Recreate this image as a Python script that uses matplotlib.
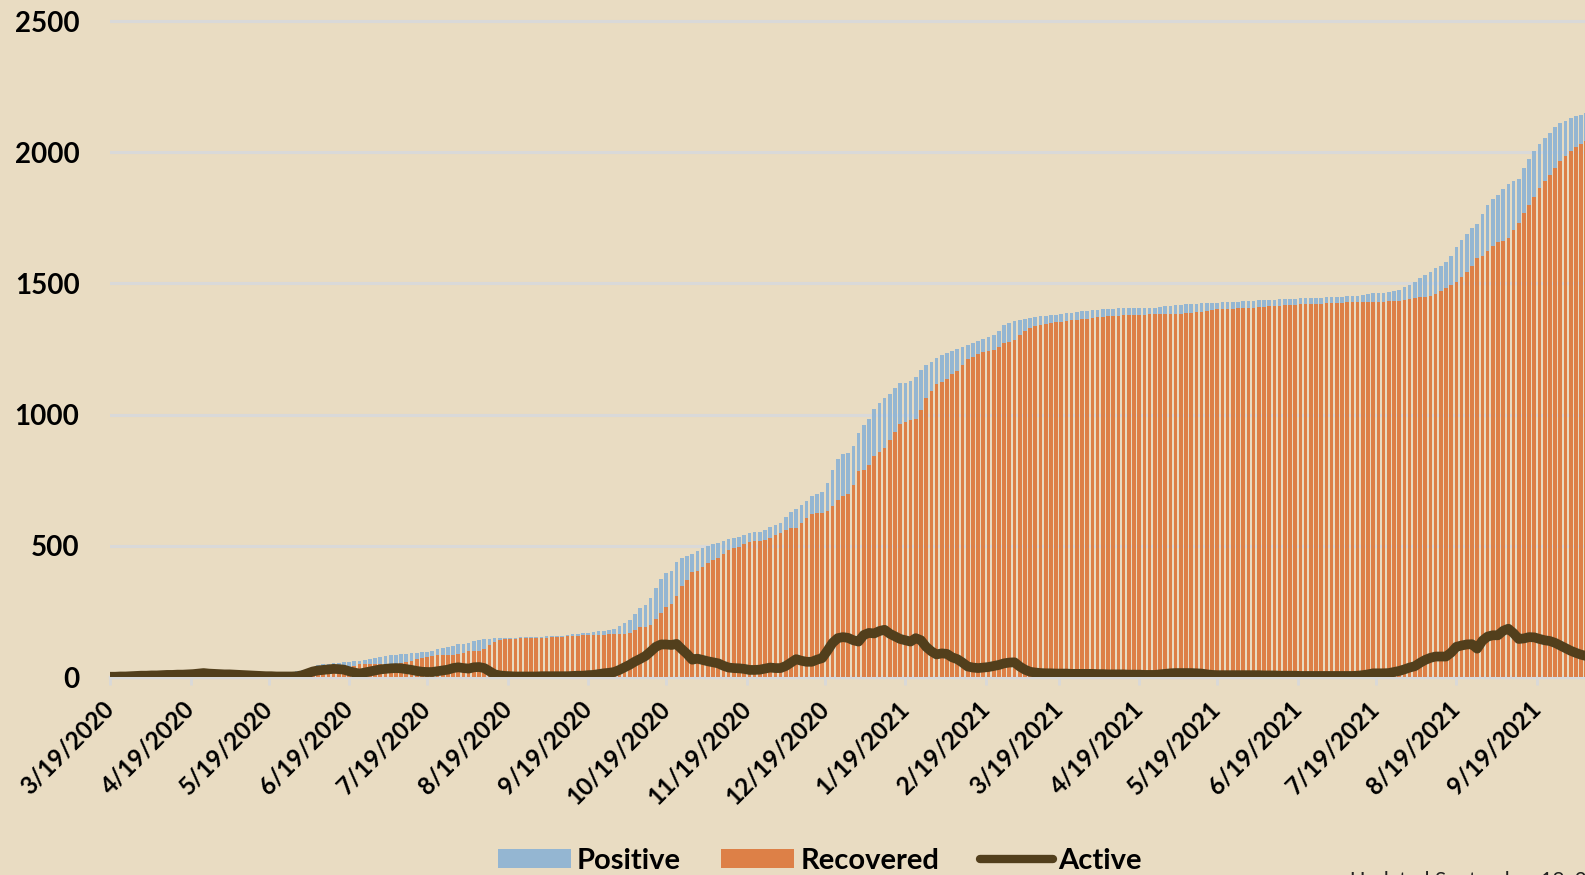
import matplotlib
matplotlib.use('Agg')
import matplotlib.pyplot as plt
import matplotlib.dates as mdates
import pandas as pd
from matplotlib.lines import Line2D
from matplotlib.patches import Patch

start_date = '2020-03-19'
step = '2D'

positive = [
    1, 1, 2, 2, 3, 4, 5, 5, 6, 7, 8, 9, 9, 10, 11, 12,
    13, 15, 17, 17, 17, 17, 17, 18, 18, 18, 18, 18, 18, 18, 18,
    18, 18, 19, 19, 20, 21, 25, 32, 40, 44, 48, 51, 53, 55, 56,
    58, 60, 62, 66, 70, 74, 78, 80, 82, 84, 86, 88, 90, 92, 94,
    96, 100, 105, 110, 114, 120, 124, 127, 131, 136, 140, 143, 145, 147, 148, 149,
    150, 150, 151, 151, 152, 153, 154, 155, 156, 157, 158, 160, 163, 165, 167,
    169, 170, 174, 177, 180, 184, 194, 205, 217, 240, 262, 275, 300, 338, 372,
    395, 405, 440, 455, 462, 470, 480, 490, 500, 506, 512, 518, 526, 530, 535, 542,
    549, 551, 554, 562, 572, 580, 588, 608, 628, 642, 655, 672, 688, 698, 705,
    740, 790, 830, 850, 855, 880, 930, 960, 985, 1020, 1045, 1065, 1080, 1100, 1120,
    1122, 1128, 1145, 1170, 1190, 1200, 1215, 1228, 1236, 1242, 1250, 1258, 1265, 1272, 1280, 1288,
    1295, 1305, 1320, 1340, 1348, 1355, 1360, 1365, 1368, 1372, 1375, 1377, 1379, 1381,
    1383, 1386, 1389, 1391, 1393, 1395, 1398, 1400, 1402, 1402, 1403, 1405, 1406, 1407, 1407,
    1407, 1407, 1408, 1408, 1410, 1412, 1414, 1416, 1418, 1420, 1422, 1423, 1424, 1425, 1426,
    1427, 1428, 1429, 1430, 1431, 1432, 1433, 1434, 1435, 1436, 1437, 1438, 1439, 1440, 1441, 1442,
    1443, 1444, 1444, 1445, 1446, 1447, 1448, 1449, 1450, 1451, 1452, 1453, 1455, 1458, 1462,
    1463, 1464, 1466, 1470, 1476, 1485, 1495, 1505, 1520, 1532, 1545, 1558, 1568, 1582, 1605,
    1640, 1665, 1690, 1712, 1726, 1763, 1800, 1823, 1838, 1858, 1878, 1891, 1898, 1940, 1975, 2004,
    2030, 2055, 2075, 2095, 2110, 2120, 2130, 2137, 2143, 2148,
]

recovered = [
    0, 0, 0, 0, 0, 0, 0, 0, 0, 1, 1, 1, 1, 1, 2, 2,
    2, 2, 2, 4, 5, 6, 7, 8, 9, 10, 11, 12, 13, 14, 15,
    15, 16, 17, 17, 18, 18, 18, 18, 19, 19, 21, 22, 22, 25, 28,
    35, 42, 48, 48, 48, 48, 48, 48, 48, 49, 52, 57, 62, 68, 73,
    76, 80, 82, 84, 85, 85, 86, 92, 98, 98, 100, 107, 121, 135, 140, 143,
    145, 146, 147, 147, 148, 149, 149, 150, 151, 152, 153, 155, 157, 158, 160,
    160, 160, 161, 161, 162, 163, 164, 165, 167, 178, 190, 192, 200, 220, 245,
    268, 280, 310, 345, 370, 400, 405, 420, 435, 445, 455, 470, 484, 490, 496, 505,
    516, 518, 520, 524, 530, 540, 547, 559, 566, 567, 586, 607, 623, 625, 626,
    632, 652, 674, 689, 697, 731, 785, 790, 807, 843, 859, 874, 904, 933, 963,
    970, 981, 984, 1017, 1062, 1089, 1115, 1124, 1134, 1153, 1168, 1189, 1210, 1221, 1231, 1237,
    1242, 1248, 1258, 1272, 1277, 1283, 1304, 1320, 1331, 1338, 1343, 1346, 1348, 1351,
    1353, 1356, 1360, 1362, 1364, 1365, 1368, 1371, 1373, 1374, 1375, 1377, 1378, 1380, 1380,
    1380, 1381, 1382, 1382, 1382, 1382, 1382, 1383, 1385, 1387, 1388, 1390, 1392, 1396, 1399,
    1401, 1402, 1403, 1404, 1405, 1406, 1407, 1408, 1409, 1411, 1412, 1413, 1415, 1416, 1417, 1418,
    1420, 1421, 1421, 1422, 1423, 1424, 1425, 1426, 1427, 1428, 1429, 1429, 1429, 1429, 1429,
    1430, 1431, 1432, 1432, 1434, 1437, 1440, 1445, 1447, 1448, 1452, 1460, 1470, 1484, 1492,
    1505, 1525, 1545, 1566, 1597, 1604, 1625, 1642, 1657, 1660, 1672, 1702, 1731, 1770, 1800, 1830,
    1862, 1891, 1914, 1941, 1966, 1985, 2005, 2020, 2033, 2043,
]

active = [
    1, 1, 2, 2, 3, 4, 5, 5, 6, 6, 7, 8, 8, 9, 9, 10,
    11, 13, 15, 13, 12, 11, 10, 10, 9, 8, 7, 6, 5, 4, 3,
    3, 2, 2, 2, 2, 3, 7, 14, 21, 25, 27, 29, 31, 30, 28,
    22, 17, 13, 17, 21, 25, 29, 31, 33, 34, 33, 30, 27, 23, 20,
    19, 19, 22, 25, 28, 34, 37, 34, 32, 37, 38, 34, 22, 10, 6, 4,
    3, 2, 2, 2, 2, 2, 3, 3, 3, 3, 3, 3, 4, 5, 5,
    7, 8, 11, 14, 16, 19, 27, 37, 47, 59, 69, 80, 97, 115, 124,
    124, 122, 126, 106, 88, 66, 70, 65, 60, 56, 52, 43, 36, 34, 33, 31,
    27, 27, 28, 32, 36, 34, 34, 42, 55, 68, 62, 58, 58, 66, 72,
    100, 130, 148, 152, 149, 140, 135, 160, 168, 166, 175, 180, 165, 155, 145,
    140, 135, 148, 140, 115, 98, 86, 90, 88, 75, 68, 55, 40, 36, 34, 36,
    38, 42, 46, 52, 55, 56, 40, 28, 20, 17, 15, 14, 14, 13,
    13, 13, 12, 12, 12, 12, 12, 11, 11, 10, 10, 10, 10, 9, 9,
    9, 8, 8, 8, 10, 12, 14, 15, 15, 15, 15, 14, 13, 10, 8,
    7, 7, 7, 7, 7, 7, 7, 7, 7, 6, 6, 6, 5, 5, 5, 5,
    4, 4, 4, 4, 4, 4, 4, 4, 4, 4, 4, 5, 7, 10, 14,
    14, 14, 15, 19, 23, 29, 36, 41, 54, 65, 73, 78, 78, 78, 93,
    115, 120, 124, 125, 108, 138, 154, 159, 159, 176, 184, 167, 145, 147, 152, 151,
    145, 140, 137, 130, 120, 110, 100, 92, 85, 80,
]

tick_labels = ['3/19/2020', '4/19/2020', '5/19/2020', '6/19/2020', '7/19/2020',
               '8/19/2020', '9/19/2020', '10/19/2020', '11/19/2020', '12/19/2020',
               '1/19/2021', '2/19/2021', '3/19/2021', '4/19/2021', '5/19/2021',
               '6/19/2021', '7/19/2021', '8/19/2021', '9/19/2021']
y_ticks = [0, 500, 1000, 1500, 2000, 2500]
legend_labels = ['Positive', 'Recovered', 'Active']
note_text = 'Updated September 18, 2021'

bg = '#E9DCC2'
blue = '#94B6D2'
orange = '#DD8047'
brown = '#523F1C'
grid_c = '#D9D9D9'

n = min(len(positive), len(recovered), len(active))
dates = pd.date_range(start_date, periods=n, freq=step)
x = mdates.date2num(dates)

W, H = 1585, 875
fig = plt.figure(figsize=(W / 100, H / 100), dpi=100, facecolor=bg)
ax = fig.add_axes([110 / W, (H - 677) / H, 1475 / W, (677 - 15) / H])
ax.set_facecolor(bg)

ax.bar(x, positive[:n], width=1.4, color=blue, linewidth=0, zorder=2)
ax.bar(x, recovered[:n], width=1.4, color=orange, linewidth=0, zorder=3)
ax.plot(x, active[:n], color=brown, lw=7, zorder=4,
        solid_joinstyle='round', solid_capstyle='round')

font = dict(family=['Lato', 'DejaVu Sans'], weight='bold')

tick_pos = mdates.date2num(pd.to_datetime(tick_labels, format='%m/%d/%Y'))
ax.set_xticks(tick_pos)
ax.set_xticklabels(tick_labels, rotation=45, ha='right', va='center',
                   rotation_mode='anchor', fontsize=17.5, **font)
ax.set_xlim(x[0], x[0] + 567.5)

ax.set_ylim(0, 2500 + 6 / 0.2624)
ax.set_yticks(y_ticks)
ax.set_yticklabels([str(v) for v in y_ticks], fontsize=20, **font)
ax.tick_params(axis='y', length=0, pad=22)
ax.tick_params(axis='x', length=6, width=2, color=grid_c, pad=14)

ax.yaxis.grid(True, color=grid_c, lw=2.2)
ax.set_axisbelow(True)
for s in ['top', 'right', 'left']:
    ax.spines[s].set_visible(False)
ax.spines['bottom'].set_color(grid_c)
ax.spines['bottom'].set_linewidth(2.5)
ax.spines['bottom'].set_zorder(1)

handles = [Patch(facecolor=blue, edgecolor='none'),
           Patch(facecolor=orange, edgecolor='none'),
           Line2D([0], [0], color=brown, lw=6, solid_capstyle='round')]
fig.legend(handles, legend_labels, loc='center', bbox_to_anchor=(820 / W, 14 / H),
           ncol=3, frameon=False, prop=dict(family=['Lato', 'DejaVu Sans'], weight='bold', size=21),
           handlelength=2.5, handleheight=0.6, handletextpad=0.2, columnspacing=1.4,
           borderaxespad=0, borderpad=0)

fig.text(1350 / W, 4 / H, note_text, ha='left', va='top', fontsize=15,
         family=['Lato', 'DejaVu Sans'], color='#222222')

fig.savefig('out.png', dpi=100, facecolor=bg)
